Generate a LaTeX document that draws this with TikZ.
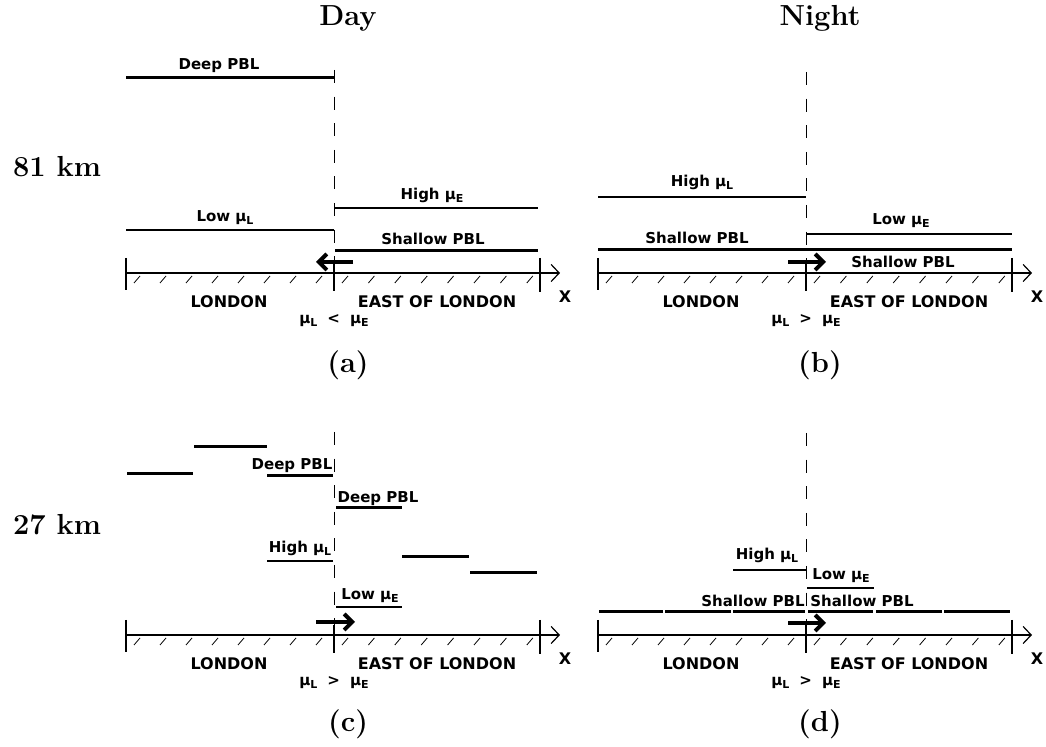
\documentclass[tikz,border=0pt]{standalone}
\usepackage{fontspec}
\newfontfamily\labelfont{DejaVu Sans}
\usetikzlibrary{arrows.meta}
% mobility symbol with a small lowered index
\newcommand\musym[1]{μ\raisebox{-0.35ex}{\fontsize{5.5}{6}\selectfont #1}}
\begin{document}
\begin{tikzpicture}[x=0.5pt,y=-0.5pt,
  lbl/.style={font=\labelfont\bfseries\fontsize{7.5}{9}\selectfont, inner sep=0, anchor=base},
  region/.style={font=\labelfont\bfseries\fontsize{8}{9.6}\selectfont, inner sep=0, anchor=base},
  ttl/.style={font=\bfseries\fontsize{14.5}{17}\selectfont, inner sep=0, anchor=base},
  pbl/.style={line width=1.5pt},
  muline/.style={line width=0.55pt},
  divider/.style={line width=0.5pt, dash pattern=on 6.5pt off 6.8pt},
  flow/.style={line width=2pt, -{Straight Barb[length=4pt,width=8pt]}},
  axisline/.style={line width=0.6pt, -{Straight Barb[length=4pt,width=8.5pt]}},
  hatch/.style={line width=0.4pt},
  boundary/.style={line width=0.6pt}]

\useasboundingbox (0,0) rectangle (1046,747);

% column and row headings
\node[ttl] (day)   at (348,26)  {Day};
\node[ttl] (night) at (820,26)  {Night};
\node[ttl] (r81)   at (57,177)  {81 km};
\node[ttl] (r27)   at (57,535)  {27 km};
\node[ttl] (capa)  at (348,373) {(a)};
\node[ttl] (capb)  at (820,373) {(b)};
\node[ttl] (capc)  at (348,732) {(c)};
\node[ttl] (capd)  at (820,732) {(d)};

% ground, borders and region names of each panel
\foreach \p/\x/\y/\t/\rel in {a/126/273/70/<, b/598/273/72/>, c/126/635/432/>, d/598/635/433/>}{
  \coordinate (\p-w)   at (\x,\y);
  \coordinate (\p-end) at (\x+434,\y);
  \coordinate (\p-top) at (\x+208,\t);
  \coordinate (\p-mid) at (\x+208,\y-10);
  \draw[axisline] (\p-w) -- (\p-end);
  \draw[boundary] (\x,\y-15) -- (\x,\y+17);
  \draw[boundary] (\p-mid) -- (\x+208,\y+18);
  \draw[boundary] (\x+414,\y-15) -- (\x+414,\y+19);
  \draw[divider] (\p-top) -- (\p-mid);
  \foreach \k in {0,...,7}{
    \draw[hatch] (\x+8+26*\k,\y+10) -- (\x+14+26*\k,\y+3);
    \draw[hatch] (\x+216+26.4*\k,\y+10) -- (\x+222+26.4*\k,\y+3);
  }
  \node[region] (\p-london) at (\x+103,\y+35) {LONDON};
  \node[region] (\p-east)   at (\x+311,\y+35) {EAST OF LONDON};
  \node[region] (\p-xlab)   at (\x+439,\y+30) {X};
  \node[lbl]    (\p-rel)    at (\x+208,\y+51) {\musym{L}\hspace{5pt}\rel\hspace{5pt}\musym{E}};
}

% (a) day, 81 km
\coordinate (a1) at (126,78);  \coordinate (a2) at (334,78);
\draw[pbl] (a1) -- (a2);
\node[lbl] (a-deep) at (219,70) {Deep PBL};
\coordinate (a3) at (126,230); \coordinate (a4) at (334,230);
\draw[muline] (a3) -- (a4);
\node[lbl] (a-low) at (225,222) {Low \musym{L}};
\coordinate (a5) at (334,208); \coordinate (a6) at (538,208);
\draw[muline] (a5) -- (a6);
\node[lbl] (a-high) at (432,200) {High \musym{E}};
\coordinate (a7) at (335,251); \coordinate (a8) at (538,251);
\draw[pbl] (a7) -- (a8);
\node[lbl] (a-shallow) at (433,245) {Shallow PBL};
\coordinate (a-f1) at (353,262); \coordinate (a-f2) at (316,262);
\draw[flow] (a-f1) -- (a-f2);

% (b) night, 81 km
\coordinate (b1) at (598,197); \coordinate (b2) at (806,197);
\draw[muline] (b1) -- (b2);
\node[lbl] (b-high) at (702,187) {High \musym{L}};
\coordinate (b3) at (806,234); \coordinate (b4) at (1012,234);
\draw[muline] (b3) -- (b4);
\node[lbl] (b-low) at (901,225) {Low \musym{E}};
\coordinate (b5) at (598,250); \coordinate (b6) at (1012,250);
\draw[pbl] (b5) -- (b6);
\node[lbl] (b-shallow1) at (697,244) {Shallow PBL};
\node[lbl] (b-shallow2) at (903,268) {Shallow PBL};
\coordinate (b-f1) at (788,262); \coordinate (b-f2) at (826,262);
\draw[flow] (b-f1) -- (b-f2);

% (c) day, 27 km: stepped boundary-layer top
\foreach \xa/\xb/\yy in {127/193/474, 194/267/447, 267/333/476, 336/402/508, 402/469/557, 470/537/573}{
  \draw[pbl] (\xa,\yy) -- (\xb,\yy);
}
\node[lbl] (c-deep1) at (292,470) {Deep PBL};
\node[lbl] (c-deep2) at (378,503) {Deep PBL};
\coordinate (c1) at (267,561); \coordinate (c2) at (333,561);
\draw[muline] (c1) -- (c2);
\node[lbl] (c-high) at (300,553) {High \musym{L}};
\coordinate (c3) at (336,607); \coordinate (c4) at (402,607);
\draw[muline] (c3) -- (c4);
\node[lbl] (c-low) at (370,600) {Low \musym{E}};
\coordinate (c-f1) at (316,622); \coordinate (c-f2) at (355,622);
\draw[flow] (c-f1) -- (c-f2);

% (d) night, 27 km
\foreach \xa/\xb in {599/663, 665/731, 733/805, 808/873, 876/942, 944/1010}{
  \draw[pbl] (\xa,612) -- (\xb,612);
}
\node[lbl] (d-shallow1) at (753,607) {Shallow PBL};
\node[lbl] (d-shallow2) at (862,607) {Shallow PBL};
\coordinate (d1) at (733,570); \coordinate (d2) at (806,570);
\draw[muline] (d1) -- (d2);
\node[lbl] (d-high) at (767,560) {High \musym{L}};
\coordinate (d3) at (807,588); \coordinate (d4) at (874,588);
\draw[muline] (d3) -- (d4);
\node[lbl] (d-low) at (841,580) {Low \musym{E}};
\coordinate (d-f1) at (788,623); \coordinate (d-f2) at (826,623);
\draw[flow] (d-f1) -- (d-f2);
\end{tikzpicture}
\end{document}
